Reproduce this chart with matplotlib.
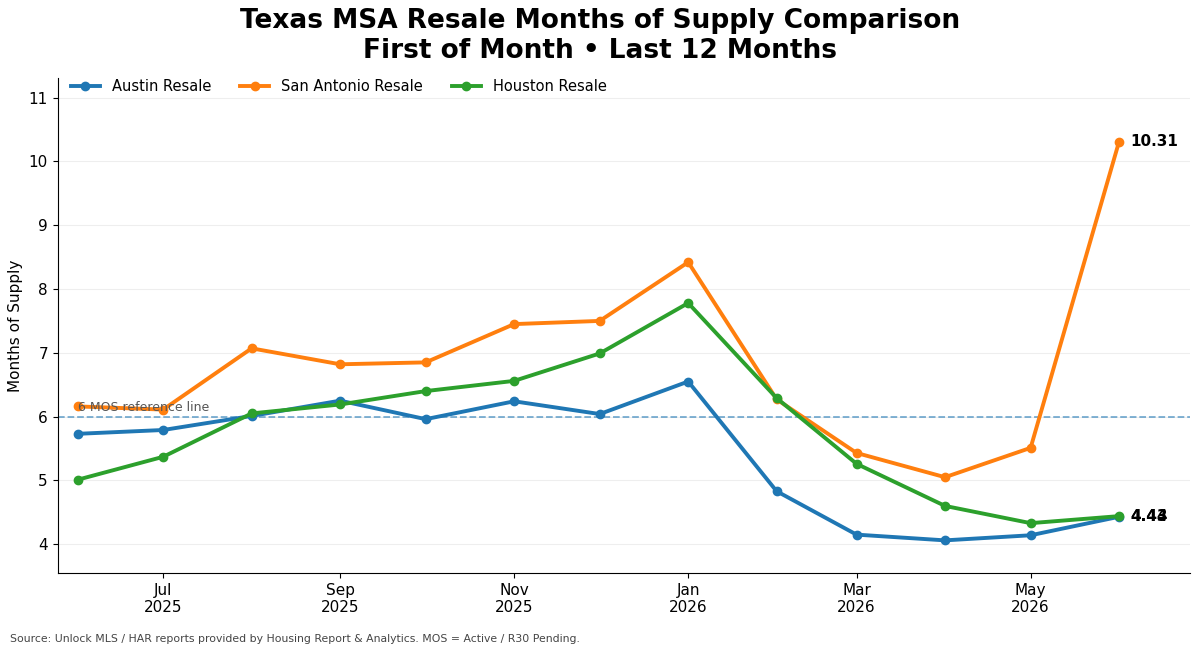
import matplotlib.pyplot as plt
import matplotlib.dates as mdates
import pandas as pd

DATES = pd.date_range("2025-06-01", "2026-06-01", freq="MS")
AUSTIN = [5.73, 5.79, 6.01, 6.25, 5.96, 6.24, 6.04, 6.55, 4.83, 4.15, 4.06, 4.14, 4.43]
SAN_ANTONIO = [6.16, 6.11, 7.07, 6.82, 6.85, 7.45, 7.50, 8.42, 6.27, 5.43, 5.05, 5.51, 10.31]
HOUSTON = [5.01, 5.37, 6.05, 6.19, 6.40, 6.56, 6.99, 7.78, 6.29, 5.26, 4.60, 4.33, 4.44]

SERIES = [
    ("Austin Resale", AUSTIN, "#1f77b4"),
    ("San Antonio Resale", SAN_ANTONIO, "#ff7f0e"),
    ("Houston Resale", HOUSTON, "#2ca02c"),
]


def main():
    fig, ax = plt.subplots(figsize=(12, 6.54), dpi=100)
    fig.subplots_adjust(left=0.048, right=0.992, top=0.88, bottom=0.124)

    ax.axhline(6, color="#1f77b4", linestyle="--", linewidth=1.3, alpha=0.6)
    ax.text(DATES[0], 6.08, "6 MOS reference line", fontsize=9, color="#555555")

    for name, values, color in SERIES:
        ax.plot(DATES, values, marker="o", markersize=6, linewidth=2.8, color=color, label=name)
        ax.annotate(f"{values[-1]:.2f}", (DATES[-1], values[-1]), xytext=(8, 0),
                    textcoords="offset points", va="center", fontsize=11, fontweight="bold")

    ax.set_xlim(pd.Timestamp("2025-05-25"), pd.Timestamp("2026-06-26"))
    ax.set_ylim(3.55, 11.3)
    ax.set_yticks(range(4, 12))
    ax.xaxis.set_major_locator(mdates.MonthLocator(bymonth=[1, 3, 5, 7, 9, 11]))
    ax.xaxis.set_major_formatter(mdates.DateFormatter("%b\n%Y"))
    ax.tick_params(labelsize=11)
    ax.grid(axis="y", color="#eeeeee")
    ax.set_axisbelow(True)
    ax.spines["top"].set_visible(False)
    ax.spines["right"].set_visible(False)
    ax.set_ylabel("Months of Supply", fontsize=11)

    ax.legend(loc="upper left", ncol=3, frameon=False, fontsize=10.5,
              bbox_to_anchor=(0, 1.025), columnspacing=2)
    fig.suptitle("Texas MSA Resale Months of Supply Comparison\nFirst of Month \u2022 Last 12 Months",
                 fontsize=19, fontweight="bold", y=0.988)
    fig.text(0.008, 0.018, "Source: Unlock MLS / HAR reports provided by Housing Report & Analytics. "
             "MOS = Active / R30 Pending.", fontsize=7.8, color="#444444")

    fig.savefig("out.png")


if __name__ == "__main__":
    main()
